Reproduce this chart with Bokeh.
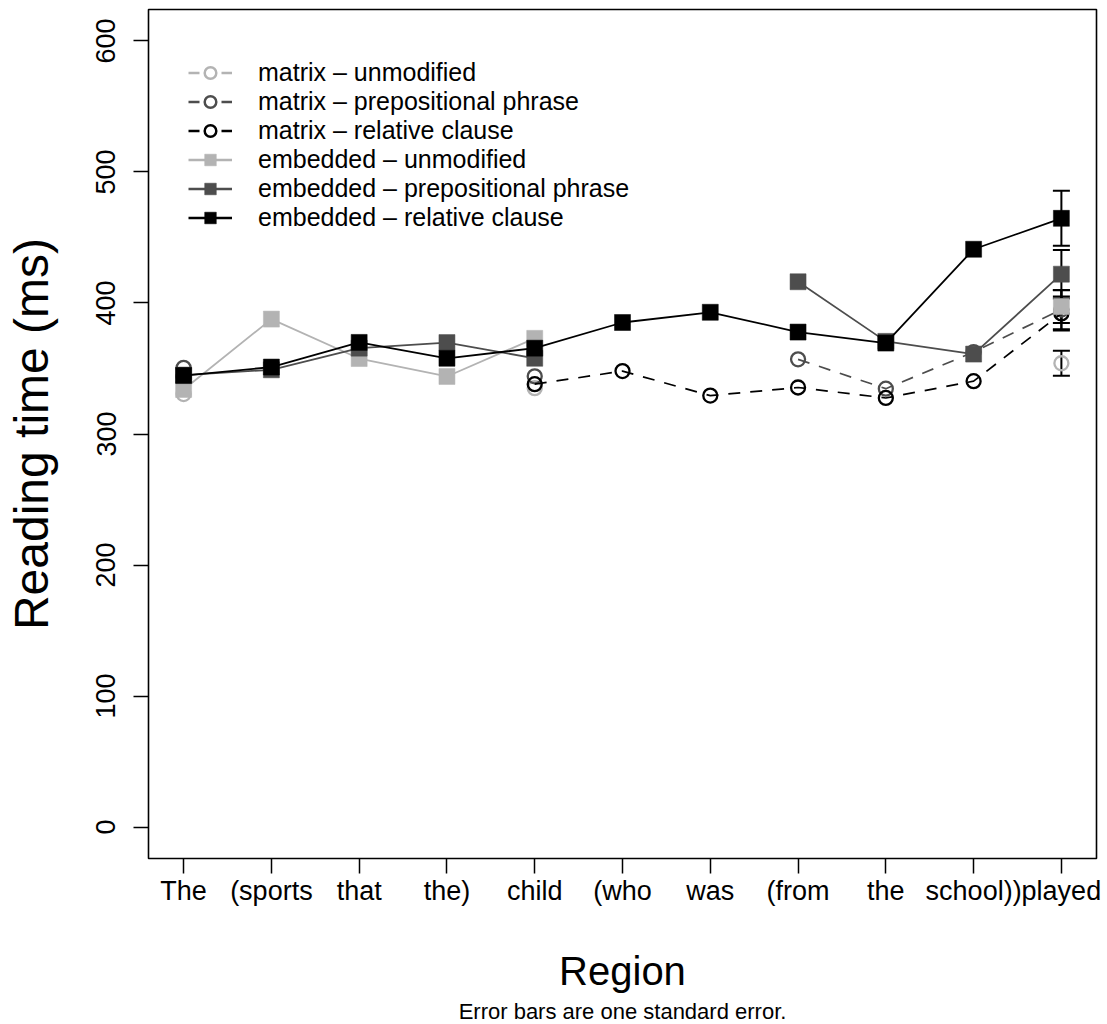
import numpy as np
from bokeh.plotting import figure
from bokeh.models import (Range1d, FixedTicker, Legend, LegendItem, Whisker,
                          TeeHead, ColumnDataSource, Title)
from bokeh.embed import file_html
from bokeh.resources import INLINE

nan = np.nan

# ---------------- data ----------------
regions = ["The", "(sports", "that", "the)", "child", "(who", "was",
           "(from", "the", "school))", "played"]
positions = list(range(1, len(regions) + 1))

matrix_unmodified = [330.5, nan, nan, nan, 335.0, nan, nan, nan, nan, nan, 354.0]
matrix_prepositional = [350.5, nan, nan, nan, 344.0, nan, nan, 357.0, 334.6, 362.5, 395.0]
matrix_relative = [343.6, nan, nan, nan, 338.0, 348.0, 329.3, 335.5, 327.5, 340.3, 392.0]
embedded_unmodified = [334.0, 387.7, 357.6, 343.9, 373.0, nan, nan, nan, nan, nan, 397.3]
embedded_prepositional = [345.0, 349.0, 365.5, 369.8, 357.8, nan, nan, 416.2, 370.7, 361.0, 422.0]
embedded_relative = [344.6, 351.1, 369.9, 357.8, 365.5, 385.1, 392.9, 377.8, 369.4, 441.0, 464.6]

# standard errors (only shown for the final region)
se_matrix_unmodified = [nan] * 10 + [9.5]
se_matrix_prepositional = [nan] * 10 + [15.0]
se_matrix_relative = [nan] * 10 + [13.0]
se_embedded_unmodified = [nan] * 10 + [12.5]
se_embedded_prepositional = [nan] * 10 + [18.5]
se_embedded_relative = [nan] * 10 + [21.0]

y_ticks = [0, 100, 200, 300, 400, 500, 600]

FONT = "Liberation Sans"
LIGHT = "#B3B3B3"
DARK = "#4D4D4D"
BLACK = "#000000"

series = [
    ("matrix \u2013 unmodified", matrix_unmodified, se_matrix_unmodified, LIGHT, "matrix"),
    ("matrix \u2013 prepositional phrase", matrix_prepositional, se_matrix_prepositional, DARK, "matrix"),
    ("matrix \u2013 relative clause", matrix_relative, se_matrix_relative, BLACK, "matrix"),
    ("embedded \u2013 unmodified", embedded_unmodified, se_embedded_unmodified, LIGHT, "embedded"),
    ("embedded \u2013 prepositional phrase", embedded_prepositional, se_embedded_prepositional, DARK, "embedded"),
    ("embedded \u2013 relative clause", embedded_relative, se_embedded_relative, BLACK, "embedded"),
]

p = figure(width=1107, height=1024,
           x_range=Range1d(0.6, 11.4), y_range=Range1d(-24, 624),
           output_backend="svg", toolbar_location=None,
           min_border_left=148, min_border_right=11,
           min_border_top=9, min_border_bottom=166)

p.background_fill_color = "white"
p.border_fill_color = "white"
p.outline_line_color = "black"
p.outline_line_width = 1.6
p.xgrid.grid_line_color = None
p.ygrid.grid_line_color = None

# error bars first (under the points)
for label, vals, ses, color, kind in series:
    xs, up, lo = [], [], []
    for xi, v, s in zip(positions, vals, ses):
        if not (np.isnan(v) or np.isnan(s)):
            xs.append(xi)
            up.append(v + s)
            lo.append(v - s)
    src = ColumnDataSource(dict(x=xs, upper=up, lower=lo))
    w = Whisker(source=src, base="x", upper="upper", lower="lower",
                line_color="black", line_width=2,
                upper_head=TeeHead(size=17, line_width=2, line_color="black"),
                lower_head=TeeHead(size=17, line_width=2, line_color="black"),
                level="underlay")
    p.add_layout(w)

items = []
for label, vals, ses, color, kind in series:
    src = ColumnDataSource(dict(x=positions, y=vals))
    key_src = ColumnDataSource(dict(x=[nan], y=[nan]))   # legend-key only
    if kind == "matrix":
        p.line("x", "y", source=src, line_color=color, line_width=1.7,
               line_dash="12 10")
        p.scatter("x", "y", source=src, marker="circle", size=14,
                  fill_color=None, line_color=color, line_width=2.3)
        lg_line = p.line("x", "y", source=key_src, line_color=color,
                         line_width=2.5, line_dash="11 22")
        lg_mark = p.scatter("x", "y", source=key_src, marker="circle",
                            fill_color=None, line_color=color, line_width=2.5)
    else:
        p.line("x", "y", source=src, line_color=color, line_width=1.8)
        p.scatter("x", "y", source=src, marker="square", size=16,
                  fill_color=color, line_color=color, line_width=0.5)
        lg_line = p.line("x", "y", source=key_src, line_color=color,
                         line_width=2.5)
        lg_mark = p.scatter("x", "y", source=key_src, marker="square",
                            fill_color=color, line_color=color, line_width=0.5)
    items.append(LegendItem(label=label, renderers=[lg_line, lg_mark]))

legend = Legend(items=items, location=(40, 626), orientation="vertical",
                glyph_width=44, glyph_height=29, label_height=29,
                spacing=0, padding=0, margin=0, label_standoff=26,
                label_text_font=FONT, label_text_font_size="25px",
                label_text_color="black",
                border_line_color=None, background_fill_alpha=0)
p.add_layout(legend)

# x axis
p.xaxis.ticker = FixedTicker(ticks=positions)
p.xaxis.major_label_overrides = {i: r for i, r in zip(positions, regions)}
p.xaxis.axis_label = "Region"
# y axis
p.yaxis.ticker = FixedTicker(ticks=y_ticks)
p.yaxis.axis_label = "Reading time (ms)"
p.yaxis.major_label_orientation = "vertical"

for ax in (p.xaxis[0], p.yaxis[0]):
    ax.axis_line_color = None
    ax.major_tick_line_color = "black"
    ax.major_tick_line_width = 1.5
    ax.major_tick_out = 15
    ax.major_tick_in = 0
    ax.minor_tick_line_color = None
    ax.major_label_text_font = FONT
    ax.major_label_text_font_size = "27px"
    ax.major_label_text_color = "black"
    ax.axis_label_text_font = FONT
    ax.axis_label_text_font_style = "normal"
    ax.axis_label_text_color = "black"

p.xaxis.axis_label_text_font_size = "40px"
p.yaxis.axis_label_text_font_size = "48px"
p.xaxis.major_label_standoff = 2
p.xaxis.axis_label_standoff = 40
p.yaxis.major_label_standoff = 18
p.yaxis.axis_label_standoff = 36

sub = Title(text="Error bars are one standard error.", align="center",
            text_font=FONT, text_font_size="22px", text_font_style="normal",
            text_color="black", standoff=2, offset=0)
p.add_layout(sub, "below")

open("out.html", "w").write(file_html(p, INLINE))
